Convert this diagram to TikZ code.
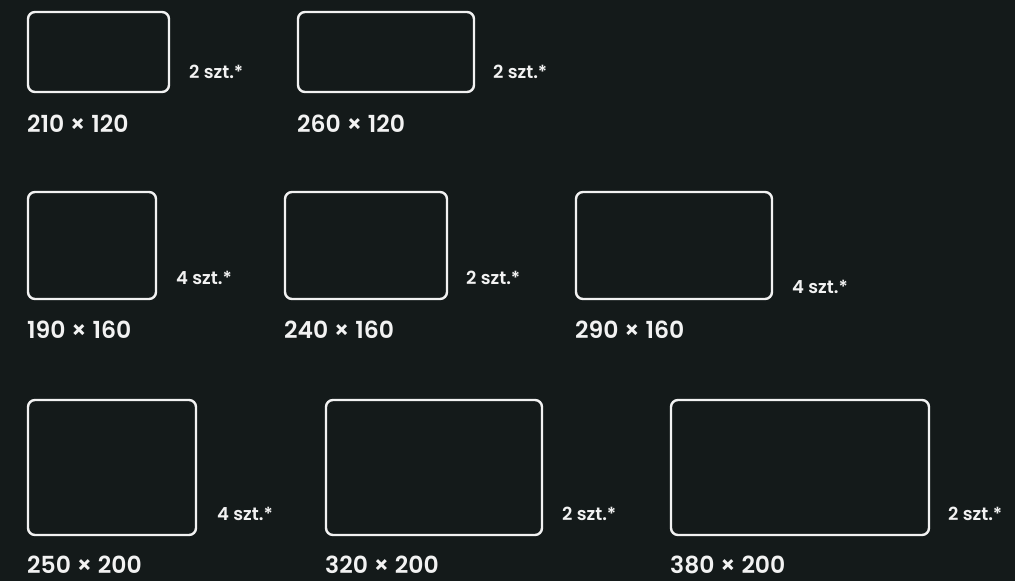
\documentclass[tikz,border=0pt]{standalone}
\usepackage{fontspec}
\setmainfont{Poppins}[UprightFont={* SemiBold}]
\definecolor{bg}{HTML}{141A1A}
\definecolor{fg}{HTML}{F2F2F2}
\begin{document}
\begin{tikzpicture}[x=1pt,y=-1pt,
  box/.style={draw=fg, line width=2.4pt, rounded corners=7pt, inner sep=0pt, outer sep=0pt, anchor=north west},
  dim/.style={anchor=base west, inner sep=0pt, text=fg, font=\fontsize{23.5}{25}\selectfont},
  qty/.style={anchor=base west, inner sep=0pt, text=fg, font=\fontsize{18}{20}\selectfont}]
\fill[bg] (0,0) rectangle (1015,581);
\useasboundingbox (0,0) rectangle (1015,581);
% row 1
\node[box, minimum width=141pt, minimum height=80pt] (b1) at (28,12) {};
\node[qty] (q1) at (189,78) {2 szt.*};
\node[dim] (d1) at (27,132) {210 × 120};
\node[box, minimum width=176pt, minimum height=80pt] (b2) at (298,12) {};
\node[qty] (q2) at (493,78) {2 szt.*};
\node[dim] (d2) at (297,132) {260 × 120};
% row 2
\node[box, minimum width=128pt, minimum height=107pt] (b3) at (28,192) {};
\node[qty] (q3) at (176,284) {4 szt.*};
\node[dim] (d3) at (27,338) {190 × 160};
\node[box, minimum width=162pt, minimum height=107pt] (b4) at (285,192) {};
\node[qty] (q4) at (466,284) {2 szt.*};
\node[dim] (d4) at (284,338) {240 × 160};
\node[box, minimum width=196pt, minimum height=107pt] (b5) at (576,192) {};
\node[qty] (q5) at (792,293) {4 szt.*};
\node[dim] (d5) at (575,338) {290 × 160};
% row 3
\node[box, minimum width=168pt, minimum height=135pt] (b6) at (28,400) {};
\node[qty] (q6) at (217,520) {4 szt.*};
\node[dim] (d6) at (27,573) {250 × 200};
\node[box, minimum width=216pt, minimum height=135pt] (b7) at (326,400) {};
\node[qty] (q7) at (562,520) {2 szt.*};
\node[dim] (d7) at (325,573) {320 × 200};
\node[box, minimum width=258pt, minimum height=135pt] (b8) at (671,400) {};
\node[qty] (q8) at (948,520) {2 szt.*};
\node[dim] (d8) at (670,573) {380 × 200};
\end{tikzpicture}
\end{document}
